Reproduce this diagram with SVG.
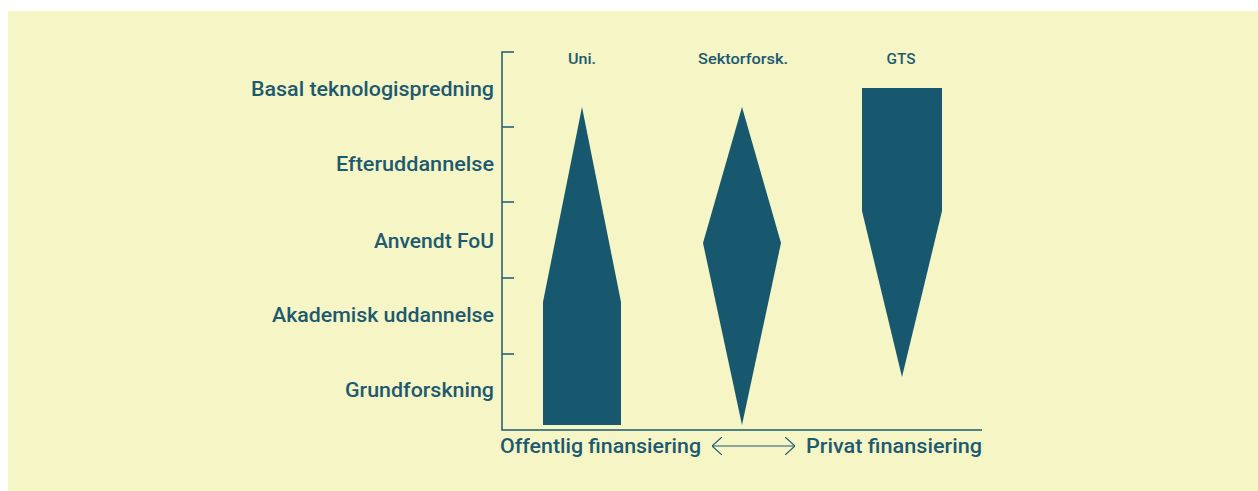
<svg xmlns="http://www.w3.org/2000/svg" width="1258" height="491" viewBox="0 0 1258 491">
<style>
.lbl{font-family:Roboto,"Liberation Sans",sans-serif;font-size:21px;font-weight:500;fill:#1d5a70;}
.col{font-family:Roboto,"Liberation Sans",sans-serif;font-size:14px;font-weight:500;fill:#1d5a70;text-anchor:middle;}
.axis{stroke:#1d5a70;stroke-width:1.5;fill:none;}
.shape{fill:#17586e;}
</style>
<defs>
<marker id="ah" viewBox="0 0 10 18" refX="10" refY="9" markerWidth="10" markerHeight="18" markerUnits="userSpaceOnUse" orient="auto-start-reverse">
<path d="M0,0 L10,9 L0,18" fill="none" stroke="#1d5a70" stroke-width="1.2"/>
</marker>
</defs>
<rect x="8" y="11" width="1250" height="480" fill="#f6f5c6"/>
<g id="axes">
<path class="axis" d="M514,52 H502 V430 H982"/>
<path class="axis" d="M502,127 H514 M502,202 H514 M502,278 H514 M502,354 H514"/>
</g>
<g id="labels" text-anchor="end">
<text class="lbl" x="494" y="96" textLength="243" lengthAdjust="spacingAndGlyphs">Basal teknologispredning</text>
<text class="lbl" x="494" y="171" textLength="158" lengthAdjust="spacingAndGlyphs">Efteruddannelse</text>
<text class="lbl" x="494" y="248" textLength="120" lengthAdjust="spacingAndGlyphs">Anvendt FoU</text>
<text class="lbl" x="494" y="322" textLength="222" lengthAdjust="spacingAndGlyphs">Akademisk uddannelse</text>
<text class="lbl" x="494" y="397" textLength="149" lengthAdjust="spacingAndGlyphs">Grundforskning</text>
</g>
<g id="uni">
<text class="col" x="582" y="64" textLength="28" lengthAdjust="spacingAndGlyphs">Uni.</text>
<polygon class="shape" points="582,107 621,302 621,425 543,425 543,302"/>
</g>
<g id="sektor">
<text class="col" x="743" y="64" textLength="90" lengthAdjust="spacingAndGlyphs">Sektorforsk.</text>
<polygon class="shape" points="742,107 781,243 742,425 703,243"/>
</g>
<g id="gts">
<text class="col" x="901" y="64" textLength="29" lengthAdjust="spacingAndGlyphs">GTS</text>
<polygon class="shape" points="862,88 942,88 942,211 902,377 862,211"/>
</g>
<g id="connectors">
<line x1="712" y1="446" x2="795" y2="446" stroke="#1d5a70" stroke-width="1.2" marker-start="url(#ah)" marker-end="url(#ah)"/>
</g>
<g id="bottom">
<text class="lbl" x="500" y="453" textLength="201" lengthAdjust="spacingAndGlyphs">Offentlig finansiering</text>
<text class="lbl" x="806" y="453" textLength="176" lengthAdjust="spacingAndGlyphs">Privat finansiering</text>
</g>
</svg>
